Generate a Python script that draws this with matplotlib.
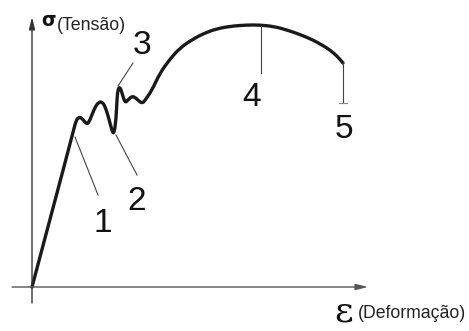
import matplotlib
matplotlib.use("Agg")
import matplotlib.pyplot as plt
from matplotlib.path import Path
from matplotlib.patches import PathPatch

# Curve (strain, stress in arbitrary units)
strain = [0, 41, 43, 46, 50, 55, 58, 63, 67, 70, 73, 77, 80, 82, 84, 85, 86, 88,
          90, 93, 96, 100, 104, 110, 114, 120, 128, 138, 148, 161, 175, 188, 201,
          215, 228, 242, 255, 268, 281, 290, 298, 305, 311]
stress = [0, 154, 163, 170, 169, 162, 167, 180, 185, 185, 181, 168, 156, 153, 167,
          188, 198, 200, 194, 184, 187, 191, 189, 183, 188, 197, 214, 228, 239, 248,
          255, 259, 261, 262, 262, 260.5, 257, 252.5, 247, 242, 237, 231, 224]

# Marked points on the curve and where their labels are
point_labels = ["1", "2", "3", "4", "5"]
point_strain = [43, 84, 86, 229, 311]
point_stress = [150, 152, 201, 261, 224]
leader_end_strain = [66, 105, 101, 229, 311]
leader_end_stress = [92, 112, 224, 214, 184]
label_strain = [71, 105, 110, 220, 312]
label_stress = [64, 86, 242, 190, 157]

y_label = "(Tensão)"
x_label = "(Deformação)"

fig = plt.figure(figsize=(4.69, 3.31), dpi=100)
ax = fig.add_axes([0, 0, 1, 1])
ax.set_xlim(-32, 437)
ax.set_ylim(-44, 287)
ax.axis("off")

# axes arrows
ax.annotate("", xy=(0, 270), xytext=(0, -16),
            arrowprops=dict(arrowstyle="-|>,head_length=0.6,head_width=0.15",
                            color="#333333", lw=1.0, mutation_scale=12,
                            shrinkA=0, shrinkB=0))
ax.annotate("", xy=(336, 0), xytext=(-20, 0),
            arrowprops=dict(arrowstyle="-|>,head_length=0.6,head_width=0.15",
                            color="#555555", lw=1.0, mutation_scale=12,
                            shrinkA=0, shrinkB=0))

# smooth curve via quadratic Bezier chain through the read points
pts = list(zip(strain, stress))
verts = [pts[0]]
codes = [Path.MOVETO]
for i in range(1, len(pts) - 1):
    p = pts[i]
    q = pts[i + 1]
    mid = ((p[0] + q[0]) / 2, (p[1] + q[1]) / 2)
    verts += [p, mid]
    codes += [Path.CURVE3, Path.CURVE3]
verts.append(pts[-1])
codes.append(Path.LINETO)
ax.add_patch(PathPatch(Path(verts, codes), facecolor="none", edgecolor="#1a1a1a",
                       lw=2.4, capstyle="round", joinstyle="round"))

# leader lines and numbers
for lab, sx, sy, ex, ey, tx, ty in zip(point_labels, point_strain, point_stress,
                                       leader_end_strain, leader_end_stress,
                                       label_strain, label_stress):
    ax.plot([sx, ex], [sy, ey], color="#444444", lw=0.8)
    ax.text(tx, ty, lab, ha="center", va="center", fontsize=24,
            family="Liberation Sans", color="#111111")
# small tick at the end of leader 5
ax.plot([leader_end_strain[4] - 4, leader_end_strain[4] + 4],
        [leader_end_stress[4], leader_end_stress[4]], color="#888888", lw=0.8)

# axis labels
ax.text(9, 266, "σ", ha="left", va="center", fontsize=13.5, fontweight="bold",
        family="DejaVu Sans", color="#111111")
ax.text(25, 262, y_label, ha="left", va="center", fontsize=12.8,
        family="Liberation Sans", color="#222222")
ax.text(312, -25, "ε", ha="center", va="center", fontsize=26,
        family="DejaVu Serif", color="#111111")
ax.text(326, -27, x_label, ha="left", va="center", fontsize=12.7,
        family="Liberation Sans", color="#222222")

fig.savefig("out.png", dpi=100)
